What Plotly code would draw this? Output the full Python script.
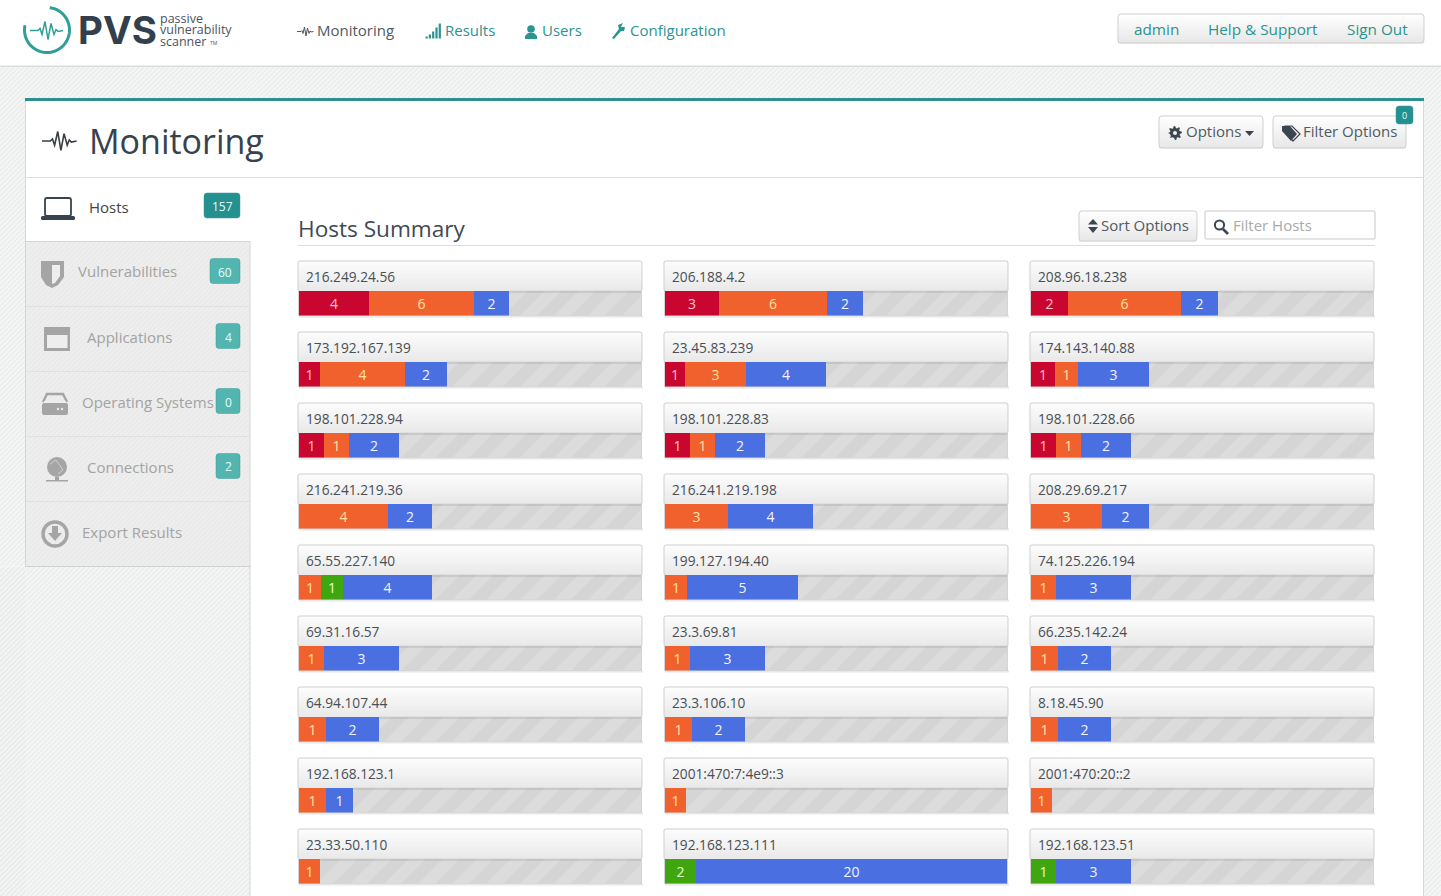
import numpy as np
import plotly.graph_objects as go

W, H = 1441, 896
FONT = "Open Sans"
TEAL = "#2a9490"
DARK = "#3c4650"
GREY = "#a3a3a3"

# hosts, read left to right, top to bottom
hosts = [
    "216.249.24.56", "206.188.4.2", "208.96.18.238",
    "173.192.167.139", "23.45.83.239", "174.143.140.88",
    "198.101.228.94", "198.101.228.83", "198.101.228.66",
    "216.241.219.36", "216.241.219.198", "208.29.69.217",
    "65.55.227.140", "199.127.194.40", "74.125.226.194",
    "69.31.16.57", "23.3.69.81", "66.235.142.24",
    "64.94.107.44", "23.3.106.10", "8.18.45.90",
    "192.168.123.1", "2001:470:7:4e9::3", "2001:470:20::2",
    "23.33.50.110", "192.168.123.111", "192.168.123.51",
]
critical = [4, 3, 2, 1, 1, 1, 1, 1, 1, 0, 0, 0, 0, 0, 0, 0, 0, 0, 0, 0, 0, 0, 0, 0, 0, 0, 0]
high = [6, 6, 6, 4, 3, 1, 1, 1, 1, 4, 3, 3, 1, 1, 1, 1, 1, 1, 1, 1, 1, 1, 1, 1, 1, 0, 0]
low = [0, 0, 0, 0, 0, 0, 0, 0, 0, 0, 0, 0, 1, 0, 0, 0, 0, 0, 0, 0, 0, 0, 0, 0, 0, 2, 1]
info = [2, 2, 2, 2, 4, 3, 2, 2, 2, 2, 4, 2, 4, 5, 3, 3, 3, 2, 2, 2, 2, 1, 0, 0, 0, 20, 3]

# the app scales bars by total, this is the share of the track filled per total
track_share = {1: 0.061, 2: 0.158, 3: 0.234, 4: 0.292, 5: 0.345, 6: 0.389,
               7: 0.433, 8: 0.471, 10: 0.547, 11: 0.579, 12: 0.614, 22: 1.0}

sev_names = ["critical", "high", "low", "info"]
sev_values = [critical, high, low, info]
sev_colors = ["#c8062f", "#f0612d", "#3fa60f", "#4a6fe0"]
sev_text = ["#ffc8cc", "#ffe3a0", "#e6ffd0", "#f2f5ff"]

side_labels = ["Vulnerabilities", "Applications", "Operating Systems", "Connections", "Export Results"]
side_label_x = [78, 87, 82, 87, 82]
side_counts = ["60", "4", "0", "2", None]
side_badge_x = [210, 216, 216, 216, None]


def px(x):
    return x / W


def py(y):
    return 1 - y / H


shapes = []
notes = []


def rect(x0, y0, x1, y1, fill, layer="below"):
    shapes.append(dict(type="rect", xref="paper", yref="paper", x0=px(x0), x1=px(x1),
                       y0=py(y0), y1=py(y1), fillcolor=fill, line_width=0, layer=layer))


def path(pts, fill=None, line=None, lw=1, close=True, layer="above"):
    d = "M" + " L".join(f"{px(a):.5f},{py(b):.5f}" for a, b in pts) + (" Z" if close else "")
    shapes.append(dict(type="path", path=d, xref="paper", yref="paper", layer=layer,
                       fillcolor=fill if fill else "rgba(0,0,0,0)",
                       line=dict(color=line if line else "rgba(0,0,0,0)", width=lw if line else 0)))


def circle(cx, cy, r, fill=None, line=None, lw=1, layer="above"):
    shapes.append(dict(type="circle", xref="paper", yref="paper", layer=layer,
                       x0=px(cx - r), x1=px(cx + r), y0=py(cy - r), y1=py(cy + r),
                       fillcolor=fill if fill else "rgba(0,0,0,0)",
                       line=dict(color=line if line else "rgba(0,0,0,0)", width=lw if line else 0)))


def rrect(x0, y0, x1, y1, r, fill=None, line=None, lw=1, layer="above"):
    d = (f"M{px(x0 + r):.5f},{py(y0):.5f} L{px(x1 - r):.5f},{py(y0):.5f} "
         f"Q{px(x1):.5f},{py(y0):.5f} {px(x1):.5f},{py(y0 + r):.5f} "
         f"L{px(x1):.5f},{py(y1 - r):.5f} Q{px(x1):.5f},{py(y1):.5f} {px(x1 - r):.5f},{py(y1):.5f} "
         f"L{px(x0 + r):.5f},{py(y1):.5f} Q{px(x0):.5f},{py(y1):.5f} {px(x0):.5f},{py(y1 - r):.5f} "
         f"L{px(x0):.5f},{py(y0 + r):.5f} Q{px(x0):.5f},{py(y0):.5f} {px(x0 + r):.5f},{py(y0):.5f} Z")
    shapes.append(dict(type="path", path=d, xref="paper", yref="paper", layer=layer,
                       fillcolor=fill if fill else "rgba(0,0,0,0)",
                       line=dict(color=line if line else "rgba(0,0,0,0)", width=lw if line else 0)))


def gradient(x0, y0, x1, y1, top, bottom, layer="below"):
    # stacked 1px-ish strips, shapes have no gradient fill
    a = np.array([int(top[i:i + 2], 16) for i in (1, 3, 5)])
    b = np.array([int(bottom[i:i + 2], 16) for i in (1, 3, 5)])
    n = int(max(2, min(y1 - y0, 12)))
    for i in range(n):
        c = (a + (b - a) * i / (n - 1)).astype(int)
        rect(x0, y0 + (y1 - y0) * i / n, x1, y0 + (y1 - y0) * (i + 1) / n + 0.5,
             f"rgb({c[0]},{c[1]},{c[2]})", layer)


def hatch(x0, y0, x1, y1, step, color, lw=1.5):
    # diagonal lines clipped to a box, one path so the page stays light
    d = []
    w, h = x1 - x0, y1 - y0
    for s in np.arange(step, w + h, step):
        ax, ay = (x0 + s, y0) if s <= w else (x1, y0 + s - w)
        bx, by = (x0, y0 + s) if s <= h else (x0 + s - h, y1)
        d.append(f"M{px(ax):.5f},{py(ay):.5f} L{px(bx):.5f},{py(by):.5f}")
    shapes.append(dict(type="path", path=" ".join(d), xref="paper", yref="paper", layer="below",
                       line=dict(color=color, width=lw)))


def text(s, x, y, size=15, color=DARK, anchor="left", family=FONT, weight=None):
    f = dict(family=family, size=size, color=color)
    if weight:
        f["weight"] = weight
    notes.append(dict(text=s, x=px(x), y=py(y - 1), xref="paper", yref="paper", showarrow=False,
                      xanchor=anchor, yanchor="middle", font=f, borderpad=0, borderwidth=0))


def button(x0, y0, x1, y1, layer="above"):
    gradient(x0, y0, x1, y1, "#ffffff", "#e8e8e8", layer)
    rrect(x0, y0, x1, y1, 3, line="#cfcfcf", lw=1, layer=layer)


def badge(x0, y0, x1, y1, label, fill, size=12):
    rrect(x0, y0, x1, y1, 3, fill=fill, line="#3f9f9b", lw=0.5)
    text(label, (x0 + x1) / 2, (y0 + y1) / 2 + 2, size, "#e4fff9", "center")


def pulse(x, y, s, color, lw=1.3):
    pts = [(0, 0), (8, 0), (10, -2), (12, 4), (15, -9), (18, 9), (21, -7), (24, 4), (26, -1), (28, 1), (33, 0)]
    path([(x + a * s, y + b * s) for a, b in pts], line=color, lw=lw, close=False)


# page, top bar and main panel
rect(0, 0, W, H, "#f4f5f5")
hatch(0, 66, W, H, 5, "#e9ebeb", 1.2)
rect(0, 0, W, 66, "#ffffff")
rect(0, 65.5, W, 67, "#dcdcdc")
rect(25, 100, 1424, H, "#d8d8d8")
rect(26, 100, 1423, H, "#ffffff")
rect(25, 98, 1424, 101, "#2c8f90")
rect(26, 177, 1423, 178, "#dddddd")

# sidebar
rect(25, 241, 250.5, 567, "#d4d4d4")
rect(26, 242, 249.5, 566, "#eeeeee")
hatch(26, 242, 249.5, 566, 5, "#e8e8e8", 1.2)
rect(25, 566, 250, H, "#f4f5f5")
hatch(0, 567, 250, H, 5, "#e9ebeb", 1.2)
rect(0, 566, 26, 567, "#f4f5f5")
rect(25, 566, 250, 567, "#d0d0d0")
rect(249.5, 566, 250.5, H, "#d6d6d6")
for i in range(1, 5):
    rect(26, 241 + 65 * i, 249, 242 + 65 * i, "#e0e0e0")

text("Hosts", 89, 207.5, 15, "#444444")
badge(204, 193, 240, 218, "157", "#24908f")
for i, name in enumerate(side_labels):
    yc = 272.5 + 65 * i
    text(name, side_label_x[i], yc, 15, GREY)
    if side_counts[i] is not None:
        badge(side_badge_x[i], yc - 14, 240, yc + 11, side_counts[i], "#52b5b0")

# logo
t = np.linspace(-1.45, 3.35, 60)
path([(47 + 22.5 * np.cos(a), 30 + 22.5 * np.sin(a)) for a in t], line="#2f9f98", lw=3, close=False)
pulse(30, 30.5, 1.0, "#2f9f98", 1.5)
text("PVS", 78, 31, 38.5, "#333f4d", family="Inter", weight=700)
text("passive", 160, 19.5, 12.5, "#4a5560")
text("vulnerability", 160, 30.5, 12.5, "#4a5560")
text("scanner", 160, 42, 12.5, "#4a5560")
text("TM", 210, 44, 5, "#4a5560")

# nav
pulse(297, 31.5, 0.5, "#555555", 1)
text("Monitoring", 317, 31, 15, "#505a62")
for k, hh in enumerate([2, 4, 7, 11, 15]):
    rect(425.5 + 3.3 * k, 38.5 - hh, 427.7 + 3.3 * k, 38.5, TEAL, "above")
text("Results", 445, 31, 15, TEAL)
circle(531, 29, 3.8, fill=TEAL)
path([(525, 39), (525, 36), (528, 33), (534, 33), (537, 36), (537, 39)], fill=TEAL)
text("Users", 542, 31, 15, TEAL)
path([(612, 38), (619, 29), (618, 25), (623, 23), (621, 27), (625, 27), (624, 31), (621, 31), (614, 39)], fill=TEAL)
text("Configuration", 630, 31, 15, TEAL)

# right nav group
button(1118, 14, 1424, 43)
text("admin", 1156, 30, 15.3, TEAL, "center")
text("Help & Support", 1262.5, 30, 15.3, TEAL, "center")
text("Sign Out", 1377.5, 30, 15.3, TEAL, "center")

# panel heading
pulse(42, 141, 1.05, "#3a3f45", 1.6)
text("Monitoring", 89, 142, 34, "#37424c")
button(1159, 116, 1263, 148)
gear = []
for a in np.linspace(0, 2 * np.pi, 33)[:-1]:
    r = 7 if int(a / (2 * np.pi) * 32 + 1) % 4 < 2 else 5
    gear.append((1175 + r * np.cos(a), 133 + r * np.sin(a)))
path(gear, fill="#3b4650")
circle(1175, 133, 2, fill="#f4f4f4")
text("Options", 1186, 132, 15, "#505a62")
path([(1245, 131), (1254, 131), (1249.5, 136)], fill="#3b4650")
button(1273, 116, 1406, 148)
path([(1285, 126), (1292, 126), (1300, 134), (1293, 141), (1285, 131)], line="#3b4650", lw=1.2)
path([(1282, 126), (1290, 126), (1297, 134), (1291, 141), (1282, 131)], fill="#3b4650")
text("Filter Options", 1303, 132, 15, "#505a62")
badge(1396, 106, 1413, 124, "0", "#24908f", 9)

# hosts summary heading
text("Hosts Summary", 298, 229, 22.6, "#3f4a54")
rect(298, 245, 1375, 246, "#dddddd")
button(1079, 211, 1197, 241)
path([(1088, 224.5), (1098, 224.5), (1093, 219)], fill="#3b4650")
path([(1088, 227), (1098, 227), (1093, 233)], fill="#3b4650")
text("Sort Options", 1101, 226, 15, "#505a62")
rrect(1205, 211, 1375, 239, 1, fill="#ffffff", line="#c8c8c8", layer="above")
circle(1219.5, 225, 4.6, line="#3b4650", lw=2)
path([(1223, 229), (1228, 234)], line="#3b4650", lw=2.6, close=False)
text("Filter Hosts", 1233, 226, 15, "#aaaaaa")

# sidebar icons
rrect(45, 198, 71, 216, 2, line="#3a444e", lw=1.8)
rrect(41, 216, 75, 220, 1.5, fill="#3a444e")
path([(41, 261), (64, 261), (64, 277), (58, 285), (52, 288), (46, 285), (41, 277)], fill="#a5a5a5")
path([(52, 265), (60, 265), (60, 276), (55, 283), (52, 284)], fill="#eeeeee")
rect(44, 327, 70, 351, "#a5a5a5", "above")
rect(47, 335, 67.5, 348, "#eeeeee", "above")
rrect(42, 403, 68, 415, 2, fill="#a5a5a5")
path([(43, 402), (47, 394), (63, 394), (67, 402)], line="#a5a5a5", lw=2.4, close=False)
rect(44, 401, 66, 403, "#eeeeee", "above")
circle(58, 409, 1.2, fill="#eeeeee")
circle(62, 409, 1.2, fill="#eeeeee")
circle(57, 467, 10, fill="#a5a5a5")
path([(50, 464), (56, 460), (63, 470), (58, 474)], line="#d0d0d0", lw=1, close=False)
rect(46, 480, 68, 481.5, "#a5a5a5", "above")
rect(55, 477, 59, 481, "#a5a5a5", "above")
circle(55, 534, 12, line="#a5a5a5", lw=3.4)
path([(52, 526), (58, 526), (58, 533), (62, 533), (55, 541), (48, 533), (52, 533)], fill="#a5a5a5")

# host cards
col_x = [298, 664, 1030]
card_w = 344
top0, pitch = 261, 71
head_h, bar_h = 29.5, 25

fig = go.Figure()
layout_axes = {}
for i, host in enumerate(hosts):
    row, col = divmod(i, 3)
    x0 = col_x[col]
    y0 = top0 + pitch * row
    n = i + 1
    suffix = "" if n == 1 else str(n)

    rect(x0 + 1, y0 + head_h + bar_h, x0 + card_w + 1, y0 + head_h + bar_h + 2, "#e8e8e8")
    rect(x0, y0 + head_h, x0 + card_w, y0 + head_h + bar_h + 0.5, "#d4d4d4")
    gradient(x0, y0, x0 + card_w, y0 + head_h, "#fcfcfc", "#eaeaea")
    rrect(x0, y0, x0 + card_w, y0 + head_h + 1, 2, line="#cfcfcf", lw=1, layer="below")
    text(host, x0 + 8, y0 + 16, 13.7, "#484f55")

    values = [v[i] for v in sev_values]
    total = sum(values)
    full = total / track_share[total]
    for name, val, color, tcolor in zip(sev_names, values, sev_colors, sev_text):
        if val == 0:
            continue
        fig.add_trace(go.Bar(
            x=[val], y=[host], orientation="h", name=name, xaxis="x" + suffix, yaxis="y" + suffix,
            marker=dict(color=color, line_width=0), text=[str(val)], textposition="inside",
            insidetextanchor="middle", textangle=0, constraintext="none",
            textfont=dict(family=FONT, size=14, color=tcolor), hoverinfo="skip", showlegend=False,
        ))
    if full - total > 0.001:
        fig.add_trace(go.Bar(
            x=[full - total], y=[host], orientation="h", name="rest", xaxis="x" + suffix, yaxis="y" + suffix,
            marker=dict(color="#dcdcdc", line_width=0,
                        pattern=dict(shape="/", size=24, solidity=0.5, fgcolor="#cdcdcd", bgcolor="#dcdcdc")),
            hoverinfo="skip", showlegend=False,
        ))
    # inner shadow along the top of the empty track
    rect(x0 + 1 + (card_w - 2) * track_share[total], y0 + head_h, x0 + card_w - 1, y0 + head_h + 2.5,
         "rgba(90,90,90,0.14)", "above")
    layout_axes["xaxis" + suffix] = dict(domain=[px(x0 + 1), px(x0 + card_w - 1)], range=[0, full],
                                         visible=False, fixedrange=True, anchor="y" + suffix)
    layout_axes["yaxis" + suffix] = dict(domain=[py(y0 + head_h + bar_h), py(y0 + head_h)], visible=False,
                                         fixedrange=True, anchor="x" + suffix)

fig.update_layout(
    width=W, height=H, margin=dict(l=0, r=0, t=0, b=0, pad=0), autosize=False,
    paper_bgcolor="#ffffff", plot_bgcolor="rgba(0,0,0,0)",
    barmode="stack", bargap=0, showlegend=False,
    shapes=shapes, annotations=notes, **layout_axes,
)

fig.write_html("out.html", config=dict(displayModeBar=False),
               post_script="document.body.style.margin='0';document.body.style.overflow='hidden';")
